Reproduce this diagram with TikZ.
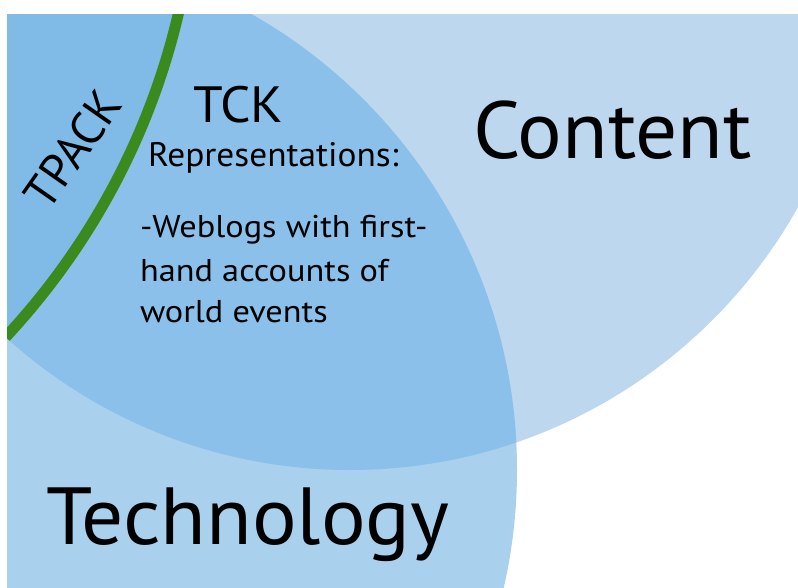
\documentclass[tikz,border=0pt]{standalone}
\usepackage{fontspec}
\setmainfont{PT Sans}
\newfontfamily\bigfont[FakeStretch=1.03]{PT Sans}
\newfontfamily\midfont[FakeStretch=1.05]{PT Sans}
\newfontfamily\subfont[FakeStretch=1.04]{PT Sans}
\newfontfamily\bodyfont[FakeStretch=1.09]{PT Sans}
\definecolor{contentc}{RGB}{189,215,239}
\definecolor{techc}{RGB}{169,209,238}
\definecolor{bothc}{RGB}{138,192,234}
\definecolor{tpackc}{RGB}{128,187,232}
\definecolor{tpgreen}{RGB}{58,138,30}
\tikzset{
  lbl/.style={inner sep=0pt, outer sep=0pt, anchor=base west, text=black},
  big/.style={lbl, font=\bigfont\fontsize{81}{90}\selectfont},
  mid/.style={lbl, font=\midfont\fontsize{51}{56}\selectfont},
  sub/.style={lbl, font=\subfont\fontsize{34}{40}\selectfont},
  body/.style={lbl, font=\bodyfont\fontsize{31.5}{40}\selectfont},
  greenarc/.style={draw=tpgreen, line width=11pt}
}
\begin{document}
\begin{tikzpicture}[x=1pt,y=-1pt]
\useasboundingbox (0,0) rectangle (798,588);
\fill[white] (0,0) rectangle (798,588);
\begin{scope}
  \clip (7,15) rectangle (798,588);
  \fill[contentc] (350,-43) circle[radius=513];
  \fill[techc] (-7,470) circle[radius=524];
  \begin{scope}
    \clip (350,-43) circle[radius=513];
    \fill[bothc] (-7,470) circle[radius=524];
    \clip (-7,470) circle[radius=524];
    \fill[tpackc] (-516,-149) circle[radius=713];
    \path[greenarc] (-516,-149) circle[radius=713];
  \end{scope}
\end{scope}
\node[big] (content) at (473,159) {Content};
\node[big] (technology) at (46,544) {Technology};
\node[mid] (tck) at (193,123) {TCK};
\node[sub] (repr) at (148,167) {Representations:};
\node[body] (l1) at (140,237) {-Weblogs with first-};
\node[body] (l2) at (140,281) {hand accounts of};
\node[body] (l3) at (140,322) {world events};
\node[inner sep=0pt, rotate=55, font=\fontsize{47}{50}\selectfont] (tpack) at (73,149) {TPACK};
\end{tikzpicture}
\end{document}
